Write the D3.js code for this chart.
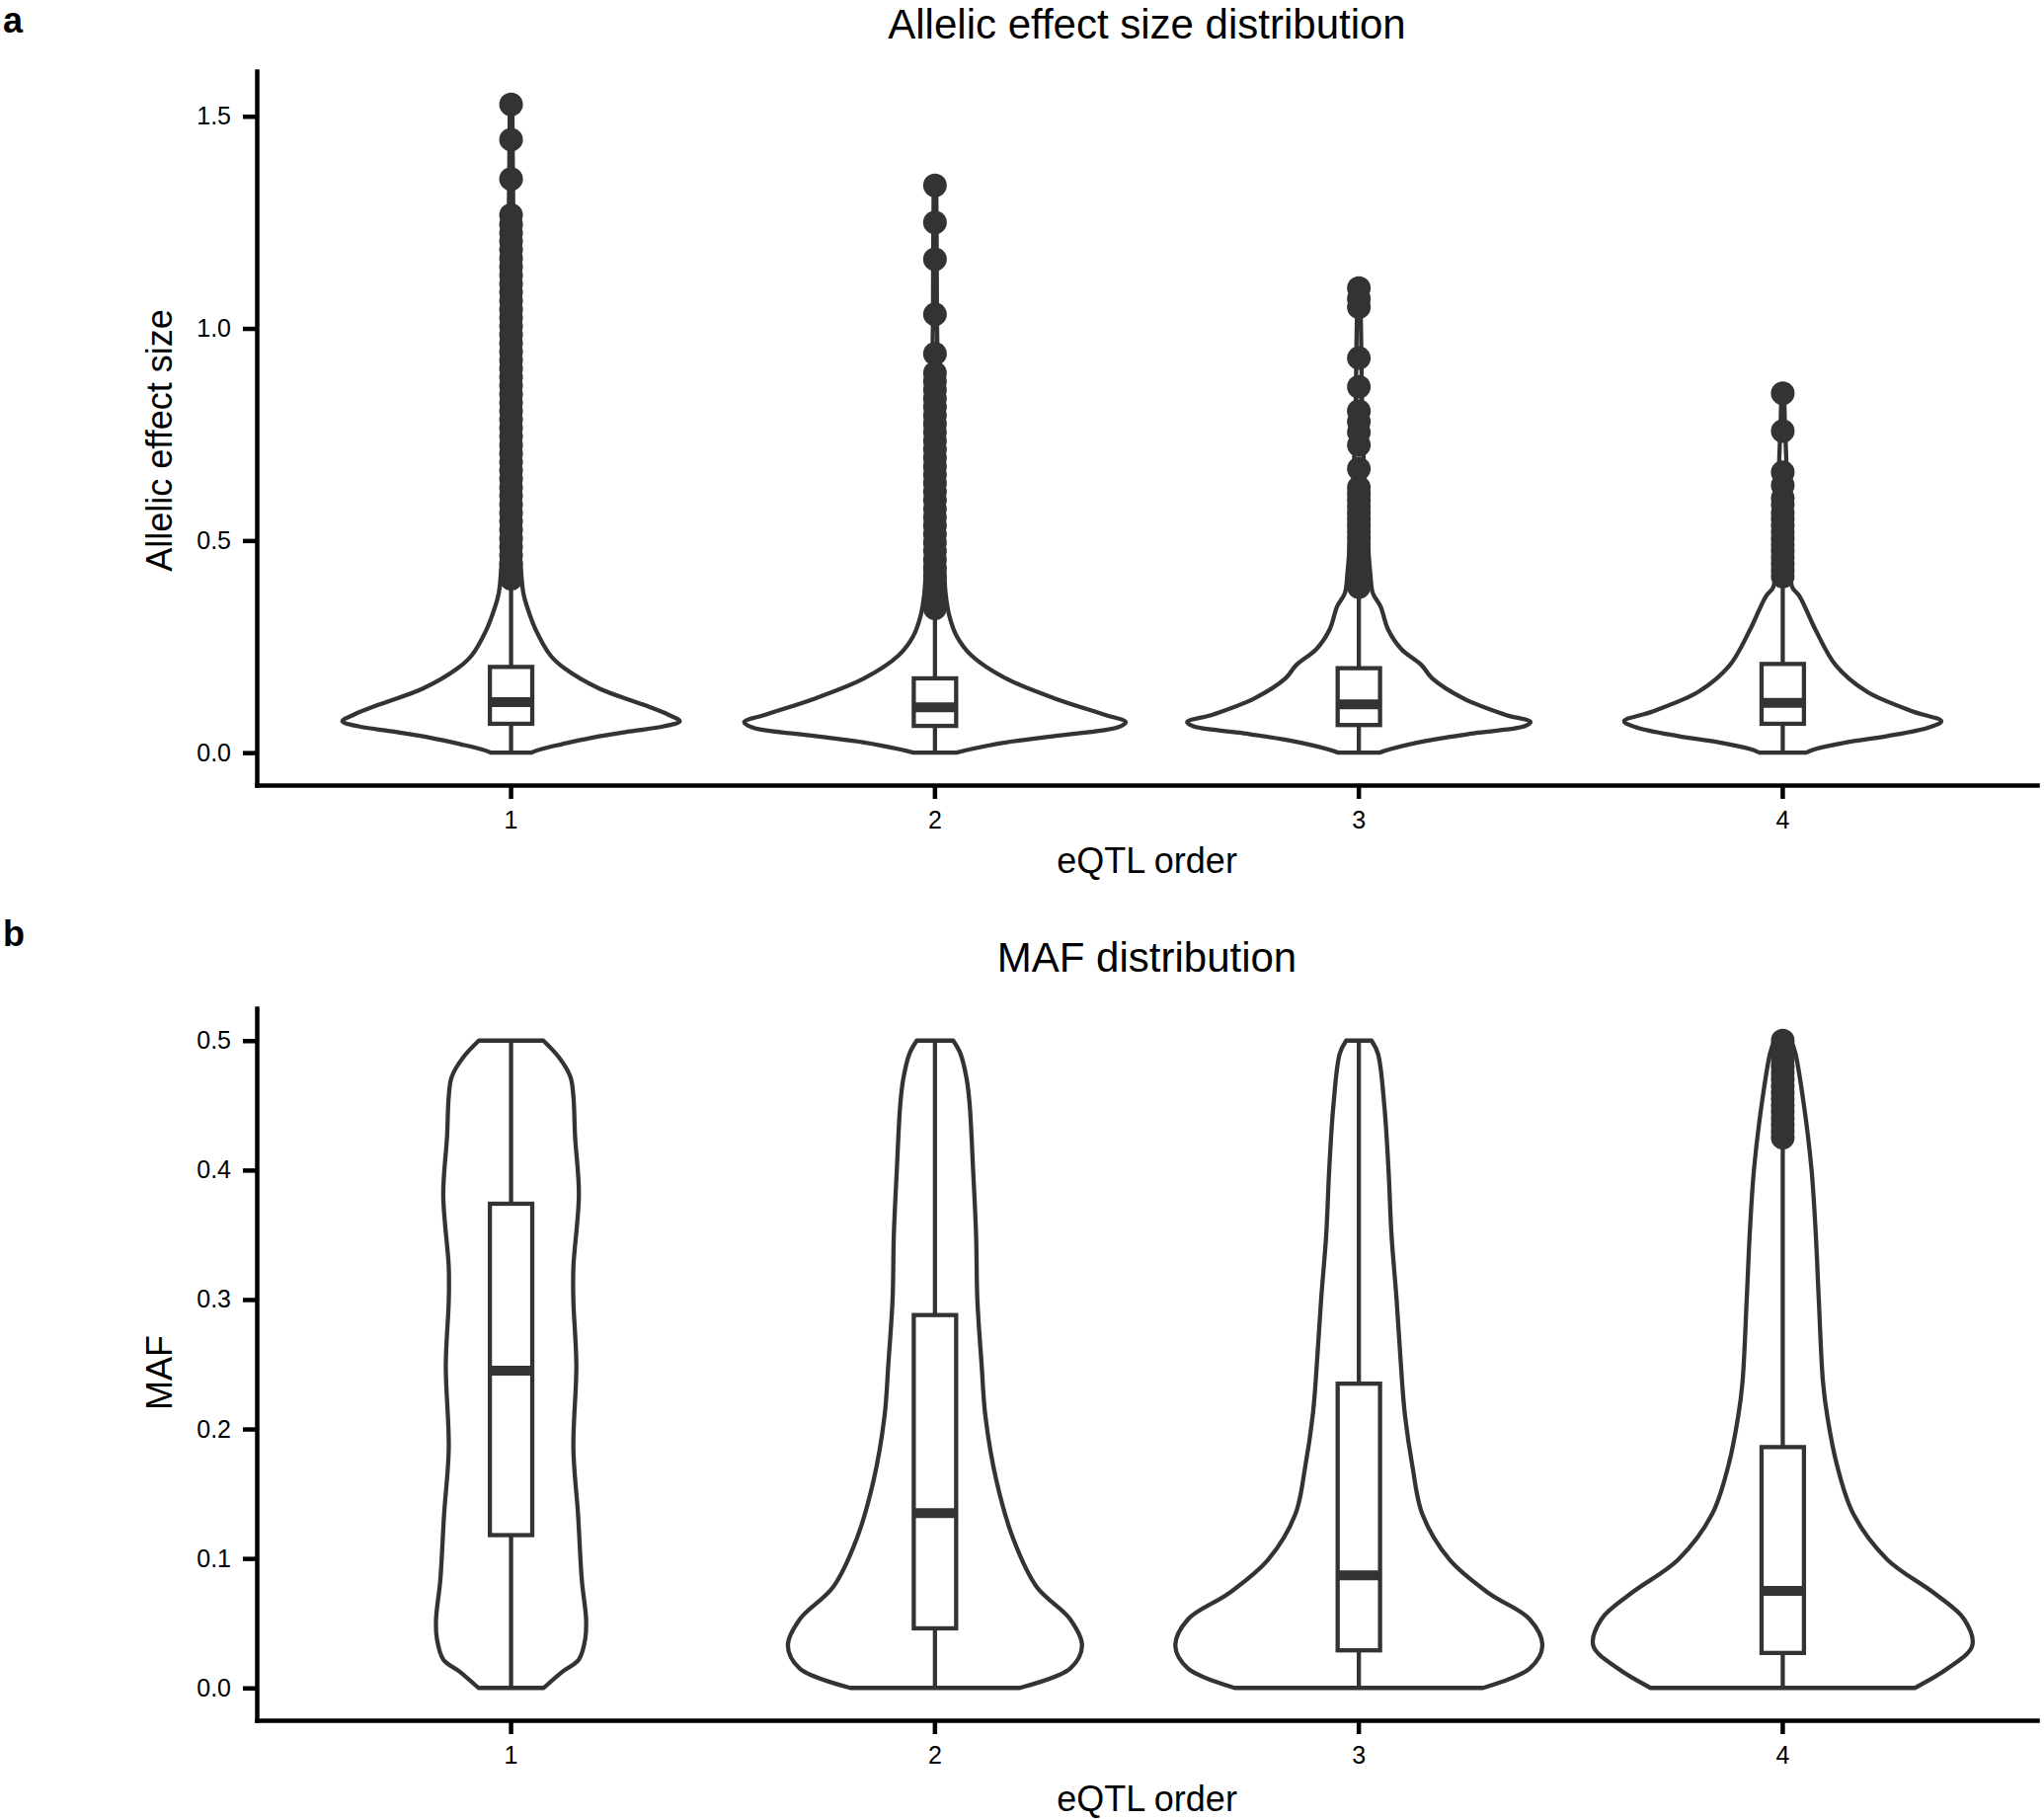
<!DOCTYPE html>
<html>
<head>
<meta charset="utf-8">
<script src="https://cdn.jsdelivr.net/npm/d3@7"></script>
<style>
  body { margin: 0; background: #fff; }
  text { font-family: "Liberation Sans", Arial, Helvetica, sans-serif; }
</style>
</head>
<body>
<div id="chart"></div>
<script>
// categories
var groups = ["1", "2", "3", "4"];

// ---- panel a : allelic effect size ----
var effTicks = [0, 0.5, 1.0, 1.5];
var effQ1 = [0.068, 0.063, 0.065, 0.068];
var effMedian = [0.119, 0.107, 0.114, 0.117];
var effQ3 = [0.202, 0.175, 0.199, 0.209];
var effLower = [0, 0, 0, 0];
var effUpper = [0.406, 0.335, 0.39, 0.41];

// violin outlines: [value, half width as fraction of band]
var effViolin1 = [[0, 0.047], [0.008, 0.07], [0.02, 0.12], [0.035, 0.19], [0.05, 0.28], [0.062, 0.36], [0.074, 0.398], [0.09, 0.37], [0.113, 0.312], [0.151, 0.208], [0.198, 0.127], [0.229, 0.093], [0.29, 0.058], [0.337, 0.04], [0.376, 0.029], [0.468, 0.021], [0.6, 0.015], [0.8, 0.01], [1.0, 0.008], [1.2, 0.006], [1.4, 0.004], [1.528, 0.003]];
var effViolin2 = [[0, 0.051], [0.0085, 0.086], [0.024, 0.167], [0.039, 0.282], [0.06, 0.433], [0.072, 0.45], [0.09, 0.398], [0.128, 0.282], [0.175, 0.167], [0.229, 0.086], [0.275, 0.051], [0.322, 0.034], [0.376, 0.025], [0.468, 0.02], [0.6, 0.012], [0.8, 0.008], [1.0, 0.005], [1.2, 0.004], [1.337, 0.003]];
var effViolin3 = [[0, 0.049], [0.0085, 0.075], [0.028, 0.16], [0.047, 0.282], [0.062, 0.39], [0.072, 0.405], [0.09, 0.343], [0.128, 0.246], [0.175, 0.173], [0.206, 0.148], [0.244, 0.1], [0.29, 0.069], [0.345, 0.051], [0.376, 0.033], [0.422, 0.027], [0.6, 0.015], [0.8, 0.008], [1.0, 0.005], [1.098, 0.003]];
var effViolin4 = [[0, 0.055], [0.0085, 0.077], [0.024, 0.149], [0.039, 0.247], [0.059, 0.344], [0.074, 0.374], [0.097, 0.307], [0.144, 0.198], [0.206, 0.125], [0.29, 0.077], [0.368, 0.04], [0.391, 0.022], [0.45, 0.018], [0.6, 0.012], [0.75, 0.006], [0.847, 0.003]];

var effOutliers1 = [1.528, 1.445, 1.352, 1.267, 1.245, 1.225, 1.205, 1.185, 1.165, 1.145, 1.125, 1.105, 1.085, 1.065, 1.045, 1.025, 1.005, 0.985, 0.965, 0.945, 0.925, 0.905, 0.885, 0.865, 0.845, 0.825, 0.805, 0.785, 0.765, 0.745, 0.725, 0.705, 0.685, 0.665, 0.645, 0.625, 0.605, 0.585, 0.565, 0.545, 0.525, 0.505, 0.485, 0.465, 0.445, 0.425, 0.41];
var effOutliers2 = [1.337, 1.25, 1.163, 1.033, 0.94, 0.895, 0.875, 0.855, 0.835, 0.815, 0.795, 0.775, 0.755, 0.735, 0.715, 0.695, 0.675, 0.655, 0.635, 0.615, 0.595, 0.575, 0.555, 0.535, 0.515, 0.495, 0.475, 0.455, 0.435, 0.415, 0.395, 0.375, 0.355, 0.34];
var effOutliers3 = [1.095, 1.07, 1.05, 0.93, 0.862, 0.805, 0.78, 0.755, 0.725, 0.669, 0.625, 0.61, 0.595, 0.58, 0.565, 0.55, 0.535, 0.52, 0.505, 0.49, 0.475, 0.46, 0.445, 0.43, 0.415, 0.4, 0.39];
var effOutliers4 = [0.847, 0.758, 0.661, 0.63, 0.6, 0.585, 0.565, 0.55, 0.535, 0.52, 0.505, 0.49, 0.475, 0.46, 0.445, 0.43, 0.415];

// ---- panel b : MAF ----
var mafTicks = [0, 0.1, 0.2, 0.3, 0.4, 0.5];
var mafQ1 = [0.118, 0.046, 0.029, 0.027];
var mafMedian = [0.245, 0.135, 0.087, 0.075];
var mafQ3 = [0.374, 0.288, 0.235, 0.186];
var mafLower = [0, 0, 0, 0];
var mafUpper = [0.5, 0.5, 0.5, 0.42];

var mafViolin1 = [[0, 0.077], [0.0125, 0.121], [0.022, 0.16], [0.038, 0.175], [0.053, 0.177], [0.083, 0.167], [0.134, 0.158], [0.185, 0.147], [0.249, 0.154], [0.299, 0.147], [0.325, 0.147], [0.381, 0.16], [0.426, 0.151], [0.457, 0.147], [0.472, 0.14], [0.487, 0.113], [0.5, 0.076]];
var mafViolin2 = [[0, 0.2], [0.015, 0.319], [0.0326, 0.347], [0.053, 0.319], [0.078, 0.24], [0.114, 0.186], [0.16, 0.145], [0.21, 0.119], [0.25, 0.11], [0.3, 0.1], [0.35, 0.097], [0.4, 0.09], [0.45, 0.082], [0.47, 0.075], [0.49, 0.06], [0.5, 0.043]];
var mafViolin3 = [[0, 0.293], [0.015, 0.403], [0.0326, 0.433], [0.053, 0.403], [0.073, 0.307], [0.099, 0.214], [0.134, 0.15], [0.172, 0.126], [0.21, 0.109], [0.236, 0.102], [0.3, 0.089], [0.35, 0.077], [0.4, 0.07], [0.45, 0.06], [0.49, 0.045], [0.5, 0.03]];
var mafViolin4 = [[0, 0.312], [0.015, 0.389], [0.0326, 0.447], [0.053, 0.428], [0.073, 0.358], [0.099, 0.247], [0.134, 0.167], [0.172, 0.128], [0.21, 0.105], [0.236, 0.095], [0.3, 0.085], [0.35, 0.078], [0.4, 0.068], [0.45, 0.05], [0.49, 0.03], [0.5, 0.02]];

var mafOutliers4 = [0.5, 0.495, 0.49, 0.485, 0.48, 0.475, 0.47, 0.465, 0.46, 0.455, 0.45, 0.445, 0.44, 0.435, 0.43, 0.425];

// ---- drawing ----
var W = 2070, H = 1842;
var ink = "#333333";
var svg = d3.select("#chart").append("svg")
  .attr("width", W)
  .attr("height", H);

var left = 260, right = 2063;

function drawPanel(p) {
  var x = d3.scaleBand()
    .domain(groups)
    .range([left, right])
    .paddingInner(0)
    .paddingOuter(0.1);
  var y = d3.scaleLinear()
    .domain(p.domain)
    .range([p.bottom, p.top]);
  var bw = x.bandwidth();
  var g = svg.append("g");

  groups.forEach(function(grp, i) {
    var cx = x(grp) + bw / 2;
    var area = d3.area()
      .y(function(d) { return y(d[0]); })
      .x0(function(d) { return cx - d[1] * bw; })
      .x1(function(d) { return cx + d[1] * bw; })
      .curve(d3.curveCatmullRom.alpha(0.5));
    g.append("path")
      .datum(p.violins[i])
      .attr("d", area)
      .attr("fill", "#fff")
      .attr("stroke", ink)
      .attr("stroke-width", 4.3)
      .attr("stroke-linejoin", "round");

    // outliers
    g.selectAll(null)
      .data(p.outliers[i] || [])
      .enter()
      .append("circle")
      .attr("cx", cx)
      .attr("cy", function(d) { return y(d); })
      .attr("r", 12)
      .attr("fill", ink);

    // whiskers
    var hb = 0.05 * bw;
    g.append("line")
      .attr("x1", cx).attr("x2", cx)
      .attr("y1", y(p.q3[i])).attr("y2", y(p.upper[i]))
      .attr("stroke", ink).attr("stroke-width", 4.3);
    g.append("line")
      .attr("x1", cx).attr("x2", cx)
      .attr("y1", y(p.q1[i])).attr("y2", y(p.lower[i]))
      .attr("stroke", ink).attr("stroke-width", 4.3);
    // box
    g.append("rect")
      .attr("x", cx - hb)
      .attr("y", y(p.q3[i]))
      .attr("width", 2 * hb)
      .attr("height", y(p.q1[i]) - y(p.q3[i]))
      .attr("fill", "#fff")
      .attr("stroke", ink)
      .attr("stroke-width", 4.3);
    g.append("line")
      .attr("x1", cx - hb).attr("x2", cx + hb)
      .attr("y1", y(p.median[i])).attr("y2", y(p.median[i]))
      .attr("stroke", ink).attr("stroke-width", 10);
  });

  // axes
  var yAxis = svg.append("g")
    .attr("transform", "translate(" + left + ",0)")
    .call(d3.axisLeft(y).tickValues(p.ticks).tickFormat(d3.format(".1f"))
      .tickSize(14).tickSizeOuter(0).tickPadding(12));
  var xAxis = svg.append("g")
    .attr("transform", "translate(0," + p.bottom + ")")
    .call(d3.axisBottom(x).tickSize(14).tickSizeOuter(0).tickPadding(12));
  [yAxis, xAxis].forEach(function(ax) {
    ax.select(".domain").attr("stroke", "#000").attr("stroke-width", 4.5).attr("stroke-linecap", "square");
    ax.selectAll(".tick line").attr("stroke", "#000").attr("stroke-width", 4.5);
    ax.selectAll(".tick text")
      .attr("fill", "#000")
      .style("font-size", "25px")
      .style("font-family", "'Liberation Sans', Arial, sans-serif");
  });

  // titles
  svg.append("text")
    .attr("x", (left + right) / 2).attr("y", p.titleY)
    .attr("text-anchor", "middle")
    .style("font-size", "42px")
    .text(p.title);
  svg.append("text")
    .attr("x", (left + right) / 2).attr("y", p.xLabelY)
    .attr("text-anchor", "middle")
    .style("font-size", "36px")
    .text("eQTL order");
  svg.append("text")
    .attr("transform", "translate(174," + p.yLabelY + ") rotate(-90)")
    .attr("text-anchor", "middle")
    .style("font-size", "36px")
    .text(p.yLabel);
  svg.append("text")
    .attr("x", 3).attr("y", p.tagY)
    .style("font-size", "36px")
    .style("font-weight", "bold")
    .text(p.tag);
}

drawPanel({
  tag: "a", tagY: 33,
  title: "Allelic effect size distribution", titleY: 39,
  yLabel: "Allelic effect size", yLabelY: 446,
  xLabelY: 884,
  domain: [-0.0765, 1.6065], top: 72, bottom: 795,
  ticks: effTicks,
  q1: effQ1, median: effMedian, q3: effQ3, lower: effLower, upper: effUpper,
  violins: [effViolin1, effViolin2, effViolin3, effViolin4],
  outliers: [effOutliers1, effOutliers2, effOutliers3, effOutliers4]
});

drawPanel({
  tag: "b", tagY: 958,
  title: "MAF distribution", titleY: 984,
  yLabel: "MAF", yLabelY: 1390,
  xLabelY: 1834,
  domain: [-0.025, 0.525], top: 1021, bottom: 1742,
  ticks: mafTicks,
  q1: mafQ1, median: mafMedian, q3: mafQ3, lower: mafLower, upper: mafUpper,
  violins: [mafViolin1, mafViolin2, mafViolin3, mafViolin4],
  outliers: [null, null, null, mafOutliers4]
});
</script>
</body>
</html>
